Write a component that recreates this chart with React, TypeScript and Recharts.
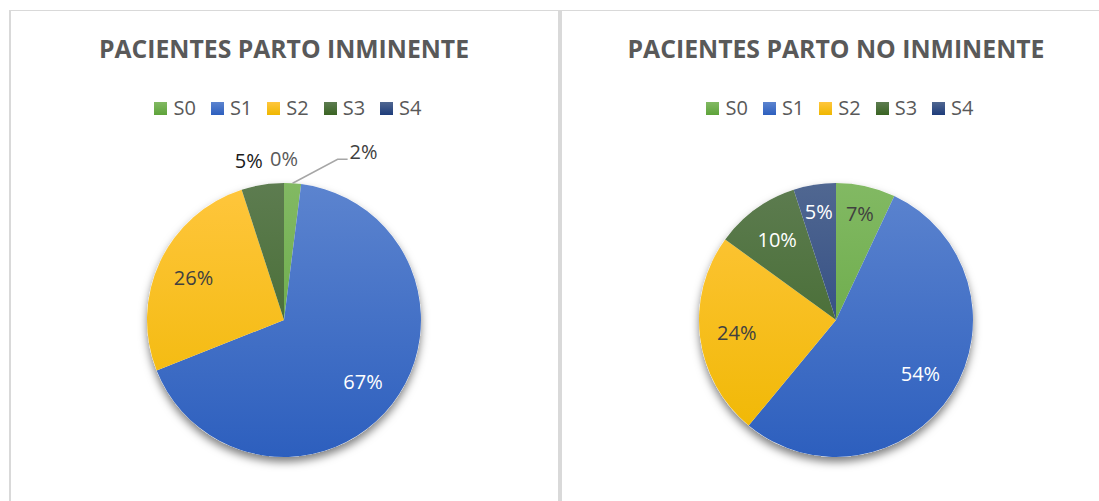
import React from 'react';
import { PieChart, Pie, Cell } from 'recharts';

// categories and series values (percent of patients per stage)
const categories = ['S0', 'S1', 'S2', 'S3', 'S4'];
const inminenteValues = [2, 67, 26, 5, 0];
const noInminenteValues = [7, 54, 24, 10, 5];

const titleInminente = 'PACIENTES PARTO INMINENTE';
const titleNoInminente = 'PACIENTES PARTO NO INMINENTE';

// gradient stops per category: [top, bottom]
const gradients: [string, string][] = [
  ['#82b963', '#5ea33a'],
  ['#5c84cf', '#2d5fbe'],
  ['#ffc63d', '#efb700'],
  ['#5d7c50', '#3a6423'],
  ['#506791', '#1e3c7a'],
];
const labelColors = ['#404040', '#ffffff', '#404040', '#ffffff', '#ffffff'];

type LabelMode = 'inside' | 'outside' | 'leader';

const RAD = Math.PI / 180;
const polar = (cx: number, cy: number, r: number, angle: number) => ({
  x: cx + r * Math.cos(-angle * RAD),
  y: cy + r * Math.sin(-angle * RAD),
});

interface PanelProps {
  id: string;
  title: string;
  titleWidth: number;
  values: number[];
  modes: LabelMode[];
  outsideColors?: string[];
  left: number;
  width: number;
  cx: number;
}

const CY = 310;
const R = 137;

function PieLegend({ cx }: { cx: number }) {
  return (
    <div
      style={{
        position: 'absolute',
        top: 87,
        left: cx - 274 + 4,
        width: 548,
        display: 'flex',
        justifyContent: 'center',
        fontFamily: 'Open Sans',
        fontSize: 20,
        color: '#595959',
      }}
    >
      {categories.map((c, i) => (
        <div key={c} style={{ display: 'flex', alignItems: 'center', marginRight: i < categories.length - 1 ? 15 : 0 }}>
          <span style={{ width: 13, height: 13, display: 'inline-block',
            background: `linear-gradient(${gradients[i][0]}, ${gradients[i][1]})` }} />
          <span style={{ marginLeft: 6, lineHeight: '22px' }}>{c}</span>
        </div>
      ))}
    </div>
  );
}

function PiePanel({ id, title, titleWidth, values, modes, outsideColors, left, width, cx }: PanelProps) {
  const data = categories.map((name, i) => ({ name, value: values[i] }));
  const shadowData = [{ name: 'shadow', value: 1 }];

  const renderLabel = (props: any) => {
    const { midAngle, percent, index } = props;
    const pcx = props.cx as number;
    const pcy = props.cy as number;
    const text = `${Math.round(percent * 100)}%`;
    const mode = modes[index];
    const font = { fontFamily: 'Open Sans', fontSize: 20 };
    if (mode === 'leader') {
      const s = polar(pcx, pcy, R, midAngle);
      const ex = s.x + 45;
      const ey = s.y - 24;
      return (
        <g key={`lbl-${index}`}>
          <polyline
            points={`${s.x},${s.y} ${ex},${ey} ${ex + 10},${ey}`}
            stroke="#a6a6a6"
            strokeWidth={1.5}
            fill="none"
          />
          <text x={ex + 12} y={ey - 8} textAnchor="start" dominantBaseline="central"
            fill={outsideColors?.[index] ?? '#404040'} {...font}>
            {text}
          </text>
        </g>
      );
    }
    if (mode === 'outside') {
      const p = polar(pcx, pcy, R * 1.18, midAngle);
      const c = Math.cos(midAngle * RAD);
      const anchor = c < -0.05 ? 'end' : c > 0.05 ? 'start' : 'middle';
      return (
        <text key={`lbl-${index}`} x={p.x + (anchor === 'end' ? 4 : 0)} y={p.y} textAnchor={anchor}
          dominantBaseline="central" fill={outsideColors?.[index] ?? '#404040'} {...font}>
          {text}
        </text>
      );
    }
    const f = percent < 0.08 ? 0.8 : 0.73;
    const p = polar(pcx, pcy, R * f, midAngle);
    return (
      <text key={`lbl-${index}`} x={p.x} y={p.y} textAnchor="middle" dominantBaseline="central"
        fill={labelColors[index]} {...font}>
        {text}
      </text>
    );
  };

  return (
    <div
      style={{
        position: 'absolute',
        left,
        top: 10,
        width,
        height: 501,
        boxSizing: 'border-box',
        borderTop: '1px solid #d9d9d9',
        borderLeft: '2px solid #d9d9d9',
        borderRight: '2px solid #d9d9d9',
      }}
    >
      <div style={{ position: 'absolute', left: -2, top: -1, width: 548, height: 491 }}>
        <PieChart width={548} height={491} margin={{ top: 0, right: 0, bottom: 0, left: 0 }}>
          <defs>
            {gradients.map(([a, b], i) => (
              <linearGradient key={i} id={`${id}-g${i}`} gradientUnits="userSpaceOnUse"
                x1={0} y1={CY - R} x2={0} y2={CY + R}>
                <stop offset="0%" stopColor={a} />
                <stop offset="100%" stopColor={b} />
              </linearGradient>
            ))}
            <filter id={`${id}-shadow`} x="-20%" y="-20%" width="140%" height="140%">
              <feDropShadow dx={0} dy={5} stdDeviation={4} floodColor="#000" floodOpacity={0.5} />
            </filter>
          </defs>
          <text x={cx} y={48} textAnchor="middle" textLength={titleWidth} lengthAdjust="spacingAndGlyphs"
            fontFamily="Open Sans" fontWeight={700} fontSize={25} fill="#595959">
            {title}
          </text>
          <Pie data={shadowData} dataKey="value" cx={cx} cy={CY} outerRadius={R} startAngle={90}
            endAngle={-270} isAnimationActive={false} legendType="none" stroke="none" label={false}>
            <Cell fill="#ffffff" filter={`url(#${id}-shadow)`} />
          </Pie>
          <Pie data={data} dataKey="value" nameKey="name" cx={cx} cy={CY} outerRadius={R}
            startAngle={90} endAngle={-270} isAnimationActive={false} stroke="none"
            labelLine={false} label={renderLabel}>
            {data.map((d, i) => (
              <Cell key={d.name} fill={`url(#${id}-g${i})`} />
            ))}
          </Pie>
        </PieChart>
        <PieLegend cx={cx} />
      </div>
    </div>
  );
}

export default function App() {
  return (
    <div style={{ position: 'absolute', left: 0, top: 0, width: 1099, height: 501, overflow: 'hidden', background: '#fff' }}>
      <PiePanel
        id="inm"
        title={titleInminente}
        titleWidth={370}
        values={inminenteValues}
        modes={['leader', 'inside', 'inside', 'outside', 'outside']}
        outsideColors={['#404040', '#404040', '#404040', '#1a1a1a', '#595959']}
        left={9}
        width={551}
        cx={275}
      />
      <PiePanel
        id="noinm"
        title={titleNoInminente}
        titleWidth={417}
        values={noInminenteValues}
        modes={['inside', 'inside', 'inside', 'inside', 'inside']}
        left={560}
        width={560}
        cx={276}
      />
    </div>
  );
}
